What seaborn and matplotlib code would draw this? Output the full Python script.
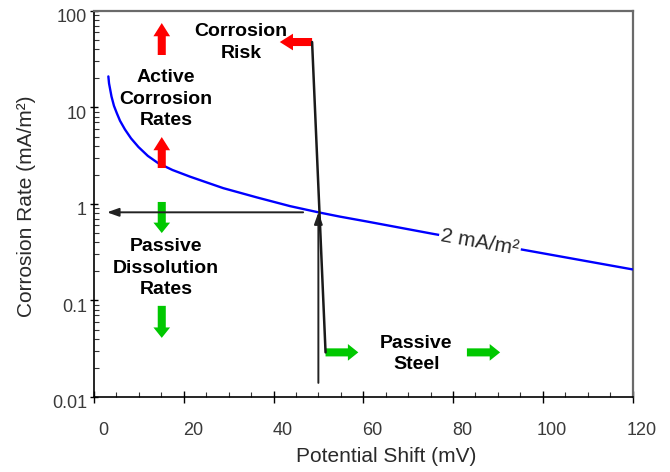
import matplotlib
matplotlib.use("Agg")
import matplotlib.pyplot as plt
import matplotlib.transforms as mtransforms
from matplotlib.ticker import FixedLocator, FixedFormatter, LogLocator, MultipleLocator
import seaborn as sns
import pandas as pd

# ---- data ----
shift_mv = [3.2, 3.35, 3.9, 4.45, 5.1, 5.8, 6.9, 8.25, 9.9, 12.0, 14.3, 17.5, 21.4, 25.0,
            28.8, 36.3, 43.7, 50.0, 54.8, 60.7, 75.6, 96.5, 120.0]
corr_rate = [21.0, 17.8, 13.0, 10.4, 8.7, 7.28, 5.92, 4.79, 3.9, 3.15, 2.65, 2.25, 1.92, 1.68,
             1.46, 1.17, 0.95, 0.82, 0.74, 0.66, 0.49, 0.33, 0.21]

xticks = [0, 20, 40, 60, 80, 100, 120]
yticks = [0.01, 0.1, 1, 10, 100]
ytick_labels = ["0.01", "0.1", "1", "10", "100"]

curve_label = "2 mA/m²"
curve_label_pos = (86.0, 0.40)

# annotations: (text, x, y)
notes = [
    ("Corrosion\nRisk", 32.8, 47.2),
    ("Active\nCorrosion\nRates", 16.0, 12.2),
    ("Passive\nDissolution\nRates", 16.0, 0.217),
    ("Passive\nSteel", 71.8, 0.0279),
]
# block arrows: (tail_x, tail_y, tip_x, tip_y)
red_arrows = [(15.1, 35.0, 15.1, 75.0), (15.1, 2.36, 15.1, 4.94), (48.6, 47.7, 41.4, 47.7)]
green_arrows = [(15.1, 1.05, 15.1, 0.50), (15.1, 0.088, 15.1, 0.041),
                (51.6, 0.029, 58.9, 0.029), (83.1, 0.029, 90.5, 0.029)]
# thin black arrows: (tail_x, tail_y, tip_x, tip_y)
black_arrows = [(46.6, 0.82, 2.9, 0.82), (50.0, 0.014, 50.0, 0.82)]
# thick black guide line
guide_x = [48.6, 51.6]
guide_y = [47.7, 0.029]

# ---- style ----
sns.set_style("ticks")
plt.rcParams["font.family"] = ["Liberation Sans", "DejaVu Sans"]

fig = plt.figure(figsize=(6.7, 4.72), dpi=100)
ax = fig.add_axes([94 / 670, 1 - 397 / 472, 538.5 / 670, 386 / 472])

df = pd.DataFrame({"shift": shift_mv, "rate": corr_rate})
sns.lineplot(data=df, x="shift", y="rate", ax=ax, color="#0000FF", lw=1.7, zorder=3)

ax.set_yscale("log")
ax.set_xlim(0, 120)
ax.set_ylim(0.01, 100)

ax.xaxis.set_major_locator(FixedLocator(xticks))
ax.xaxis.set_minor_locator(MultipleLocator(5))
ax.yaxis.set_major_locator(FixedLocator(yticks))
ax.yaxis.set_major_formatter(FixedFormatter(ytick_labels))
ax.yaxis.set_minor_locator(LogLocator(base=10, subs=range(2, 10)))
ax.yaxis.set_minor_formatter(FixedFormatter([]))

tick_col = "#3a3a3a"
ax.tick_params(axis="x", which="major", direction="inout", length=8, width=1, pad=14,
               labelsize=13, labelcolor=tick_col, color="black")
ax.tick_params(axis="x", which="minor", direction="in", length=3.5, width=0.8, color="#333333")
ax.tick_params(axis="y", which="major", direction="inout", length=6, width=1, pad=2,
               labelsize=13, labelcolor=tick_col, color="black")
ax.tick_params(axis="y", which="minor", direction="in", length=3.5, width=0.8, color="#333333")

for lab in ax.get_xticklabels():
    lab.set_transform(lab.get_transform() + mtransforms.ScaledTranslation(9 / 100, 0, fig.dpi_scale_trans))
for lab in ax.get_yticklabels():
    lab.set_transform(lab.get_transform() + mtransforms.ScaledTranslation(0, -5 / 100, fig.dpi_scale_trans))

for s in ["left", "bottom"]:
    ax.spines[s].set_color("black")
    ax.spines[s].set_linewidth(1.2)
for s in ["top", "right"]:
    ax.spines[s].set_visible(True)
    ax.spines[s].set_color("#6a6a6a")
    ax.spines[s].set_linewidth(1.6)

ax.set_xlabel("Potential Shift (mV)", fontsize=15, color="#2a2a2a")
ax.set_ylabel("Corrosion Rate (mA/m²)", fontsize=15, color="#2a2a2a")
ax.xaxis.set_label_coords(0.543, -0.13)
ax.yaxis.set_label_coords(-0.107, 0.495)

# curve label with gap
ax.text(curve_label_pos[0], curve_label_pos[1], curve_label, fontsize=15, color="#2a2a2a",
        rotation=-10, ha="center", va="center", rotation_mode="anchor", zorder=4,
        bbox=dict(boxstyle="square,pad=0.1", fc="white", ec="none"))

for txt, x, y in notes:
    ax.text(x, y, txt, fontsize=14, fontweight="bold", color="black",
            ha="center", va="center", multialignment="center", linespacing=1.35, zorder=5)

def block_arrow(tx, ty, hx, hy, col, hl):
    ax.annotate("", xy=(hx, hy), xytext=(tx, ty), xycoords="data", textcoords="data",
                arrowprops=dict(arrowstyle=f"simple,head_length={hl},head_width=12,tail_width=5.8",
                                mutation_scale=1, fc=col, ec="none", lw=0,
                                shrinkA=0, shrinkB=0), zorder=4)

for a in red_arrows:
    block_arrow(*a, "#FF0000", 9.5)
for a in green_arrows:
    block_arrow(*a, "#00C800", 7.5)

for tx, ty, hx, hy in black_arrows:
    ax.annotate("", xy=(hx, hy), xytext=(tx, ty), xycoords="data", textcoords="data",
                arrowprops=dict(arrowstyle="-|>,head_length=0.7,head_width=0.25",
                                mutation_scale=10, color="#222222", lw=1.4,
                                shrinkA=0, shrinkB=0), zorder=5)

ax.plot(guide_x, guide_y, color="#1a1a1a", lw=1.8, zorder=5)

fig.savefig("out.png", dpi=100)
